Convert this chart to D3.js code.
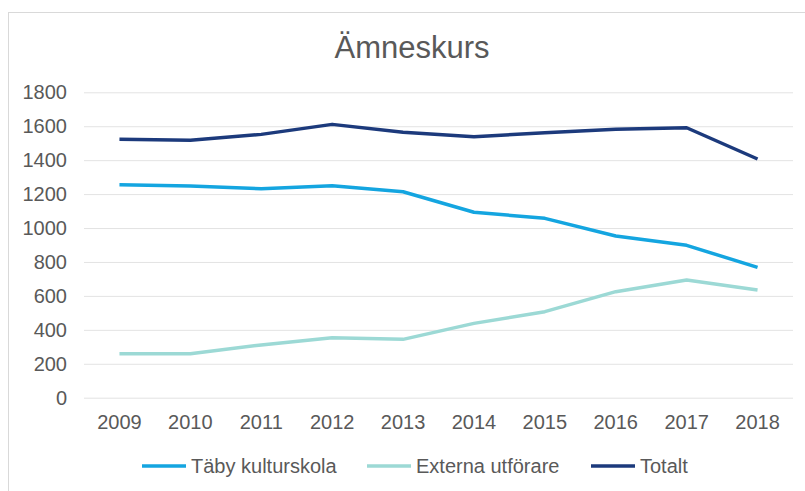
<!DOCTYPE html>
<html lang="sv">
<head>
<meta charset="UTF-8">
<title>Ämneskurs</title>
<script src="https://cdn.jsdelivr.net/npm/d3@7"></script>
<style>
    body { margin: 0; background: #fff; }
    .axis text {
        font-family: "Liberation Sans", Arial, sans-serif;
        font-size: 20px;
        fill: #595959;
    }
    .grid line { stroke: #e3e3e3; stroke-width: 1; }
    .legend text {
        font-family: "Liberation Sans", Arial, sans-serif;
        font-size: 20px;
        fill: #595959;
    }
</style>
</head>
<body>
<div id="chart"></div>
<script>

var years = [2009, 2010, 2011, 2012, 2013, 2014, 2015, 2016, 2017, 2018];
var taby = [1255, 1248, 1232, 1249, 1214, 1093, 1057, 953, 898, 768];
var externa = [259, 259, 311, 354, 344, 438, 507, 625, 694, 635];
var totalt = [1523, 1517, 1552, 1611, 1564, 1538, 1562, 1582, 1591, 1407];
var yTicks = [0, 200, 400, 600, 800, 1000, 1200, 1400, 1600, 1800];

var series = [
    { name: "Täby kulturskola", values: taby, color: "#14a5e0" },
    { name: "Externa utförare", values: externa, color: "#9cd9d5" },
    { name: "Totalt", values: totalt, color: "#1c3a7c" }
];

var w = 805;
var h = 491;
var plotLeft = 84, plotRight = 793, plotTop = 92.3, plotBottom = 397.7;

var svg = d3.select("#chart")
    .append("svg")
    .attr("width", w)
    .attr("height", h);

// chart border
svg.append("rect")
    .attr("x", 8.5)
    .attr("y", 12.5)
    .attr("width", w)
    .attr("height", h)
    .attr("fill", "none")
    .attr("stroke", "#d9d9d9");

svg.append("text")
    .text("Ämneskurs")
    .attr("x", 412)
    .attr("y", 58)
    .attr("text-anchor", "middle")
    .style("font-family", "'Liberation Sans', Arial, sans-serif")
    .style("font-size", "31px")
    .attr("fill", "#595959");

var xScale = d3.scaleBand()
    .domain(years)
    .range([plotLeft, plotRight]);

var yScale = d3.scaleLinear()
    .domain([0, 1800])
    .range([plotBottom, plotTop]);

var yAxis = d3.axisLeft(yScale)
    .tickValues(yTicks)
    .tickFormat(d3.format("d"))
    .tickSize(-(plotRight - plotLeft))
    .tickPadding(17);

svg.append("g")
    .attr("class", "axis grid")
    .attr("transform", "translate(" + plotLeft + ",0)")
    .call(yAxis)
    .call(function(g){ g.select(".domain").remove(); });

var xAxis = d3.axisBottom(xScale)
    .tickSize(0)
    .tickPadding(17);

svg.append("g")
    .attr("class", "axis")
    .attr("transform", "translate(0," + plotBottom + ")")
    .call(xAxis)
    .call(function(g){ g.select(".domain").remove(); });

var line = d3.line()
    .x(function(d, i){ return xScale(years[i]) + xScale.bandwidth() / 2; })
    .y(function(d){ return yScale(d); });

svg.append("g").selectAll("path")
    .data(series)
    .enter()
    .append("path")
        .attr("d", function(d){ return line(d.values); })
        .attr("fill", "none")
        .attr("stroke", function(d){ return d.color; })
        .attr("stroke-width", 3.5)
        .attr("stroke-linejoin", "round");

// legend
var legendX = [142, 367, 591];
var legend = svg.append("g")
    .attr("class", "legend")
    .selectAll("g")
    .data(series)
    .enter()
    .append("g")
    .attr("transform", function(d, i){ return "translate(" + legendX[i] + ",466)"; });

legend.append("line")
    .attr("x1", 0)
    .attr("x2", 44)
    .attr("stroke", function(d){ return d.color; })
    .attr("stroke-width", 3.5);

legend.append("text")
    .attr("x", 49)
    .attr("dy", "0.35em")
    .text(function(d){ return d.name; });

</script>
</body>
</html>
